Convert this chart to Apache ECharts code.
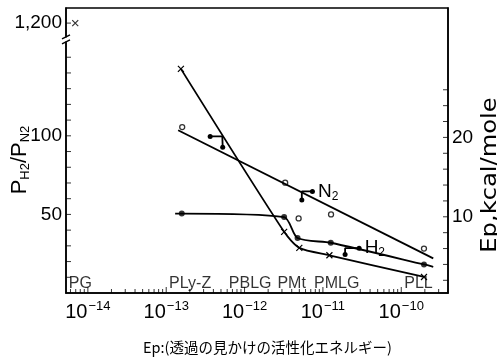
<!DOCTYPE html>
<html><head><meta charset="utf-8">
<script src="https://cdn.jsdelivr.net/npm/echarts@6/dist/echarts.min.js"></script>
<style>html,body{margin:0;padding:0;background:#fff}#c{width:497px;height:361px}</style>
</head><body><div id="c"></div>
<script>
// ---- data ----
const materials = ['PG', 'PLy-Z', 'PBLG', 'PMt', 'PMLG', 'PLL'];
const materialX = [8.0e-15, 2.02e-13, 1.18e-12, 3.99e-12, 1.50e-11, 1.66e-10];

// P_H2 / P_N2 (left axis, crosses)
const ratioPGX = [6.9e-15];
const ratioPGY = [1200];
const ratioX = [1.54e-13, 3.2e-12, 5.0e-12, 1.21e-11, 1.95e-10];
const ratioY = [142.6, 38.9, 28.7, 24.0, 10.2];

// Ep for N2 (right axis, open circles + drawn straight line)
const n2X = [1.6e-13, 3.3e-12, 4.9e-12, 1.27e-11, 1.95e-10];
const n2Ep = [21.3, 14.3, 9.8, 10.3, 6.0];
const n2LineX = [1.42e-13, 2.56e-10];
const n2LineEp = [20.9, 4.76];

// Ep for H2 (right axis, filled dots + drawn curve)
const h2X = [1.58e-13, 3.2e-12, 4.75e-12, 1.26e-11, 1.95e-10];
const h2Ep = [10.4, 9.96, 7.32, 6.73, 4.0];
const h2LineX = [1.30e-13, 1.58e-13, 3.2e-12, 4.75e-12, 1.26e-11, 1.95e-10, 2.56e-10];
const h2LineEp = [10.4, 10.4, 9.96, 7.32, 6.73, 4.0, 3.7];

// key markers (end dot, corner, end dot)
const keyRatioX = [3.64e-13, 5.2e-13, 5.26e-13];
const keyRatioY = [99.6, 99.6, 92.8];
const keyN2X = [5.38e-12, 5.38e-12, 7.35e-12];
const keyN2Ep = [12.1, 13.2, 13.2];
const keyH2X = [1.92e-11, 1.92e-11, 2.9e-11];
const keyH2Ep = [5.26, 6.05, 6.05];

// ticks / labels
const xMin = 5.26e-15, xMax = 3.95e-10;
const xLabelValues = [1e-14, 1e-13, 1e-12, 1e-11, 1e-10];
const xMinorTickValues = [];
for (let e = -15; e <= -10; e++) for (let k = 2; k <= 9; k++) {
  const v = k * Math.pow(10, e);
  if (v > xMin && v < xMax) xMinorTickValues.push(v);
}
const leftTickValues = [10,20,30,40,50,60,70,80,90,100,110,120,130,140,150,1200];
const leftLabelValues = [50, 100, 1200];
const rightTickValues = [2,4,6,8,10,12,14,16,18,20,22,24,26];
const rightLabelValues = [10, 20];
const breakStart = 160, breakEnd = 1191;

const FONT = '"Liberation Sans", Arial, sans-serif';
const zip = (a, b) => a.map((v, i) => [v, b[i]]);
const crossSym = 'path://M0,0L10,10M10,0L0,10';

function keySeries(xs, ys, yIdx, label) {
  return {
    type: 'line', yAxisIndex: yIdx, silent: true,
    data: xs.map((x, i) => ({
      value: [x, ys[i]],
      symbol: i === 1 ? 'none' : 'circle',
      label: (label && i === 2) ? {show: true, position: 'right', distance: 3,
        formatter: label, fontFamily: FONT, fontSize: 19, color: '#000',
        rich: {s: {fontSize: 12, fontFamily: FONT, verticalAlign: 'bottom', padding: [10,0,0,0]}}} : {show: false}
    })),
    symbolSize: 5, itemStyle: {color: '#000'},
    lineStyle: {color: '#000', width: 1.8}
  };
}
function tickSeries(data, yIdx, size, offset) {
  return {type: 'scatter', yAxisIndex: yIdx, silent: true, clip: false, symbol: 'rect',
    symbolSize: size, symbolOffset: offset, itemStyle: {color: '#000'}, data: data, z: 5};
}
function buildGraphics(mark) {
  const g = [{
    id: 'caption', type: 'text', left: 143, top: 340,
    style: {text: 'Ep:(透過の見かけの活性化エネルギー)', fontSize: 14.5, fontFamily: '"Noto Sans CJK JP", sans-serif', fill: '#000'}
  }, {
    id: 'leftName', type: 'text', x: 7, y: 160, rotation: Math.PI / 2,
    style: {text: 'P{s|H2}/P{s|N2}', fontSize: 22, fontFamily: FONT, fill: '#000', align: 'center', verticalAlign: 'top',
      rich: {s: {fontSize: 13, fontFamily: FONT, fill: '#000', verticalAlign: 'bottom', padding: [12, 0, 0, 0]}}}
  }, {
    id: 'rightName', type: 'text', x: 479, y: 175, rotation: Math.PI / 2, scaleX: 1.1,
    style: {text: 'Ep,kcal/mole', fontSize: 22, fontFamily: '"DejaVu Sans", sans-serif', fill: '#000', align: 'center', verticalAlign: 'top'}
  }];
  if (mark) {
    const {x, y} = mark;
    g.push({id: 'breakMark', type: 'group', z: 100, children: [
      {type: 'rect', shape: {x: x - 2, y: y - 3, width: 4, height: 6}, style: {fill: '#fff'}},
      {type: 'line', shape: {x1: x - 4, y1: y - 0.5, x2: x + 4, y2: y - 4.5}, style: {stroke: '#000', lineWidth: 1.3}},
      {type: 'line', shape: {x1: x - 4, y1: y + 4.5, x2: x + 4, y2: y + 0.5}, style: {stroke: '#000', lineWidth: 1.3}}
    ]});
  }
  return g;
}

const chart = echarts.init(document.getElementById('c'), null, {renderer: 'canvas'});
chart.setOption({
  animation: false,
  backgroundColor: '#fff',
  grid: {left: 66, right: 49, top: 8, bottom: 68, containLabel: false, outerBoundsMode: 'none',
    show: true, borderColor: '#000', borderWidth: 1.5},
  xAxis: {
    type: 'log', logBase: 10, min: xMin, max: xMax,
    axisLine: {show: true, onZero: false, lineStyle: {color: '#000', width: 1.5}},
    axisTick: {show: false},
    axisLabel: {
      customValues: xLabelValues, margin: 7, color: '#000', fontFamily: FONT,
      formatter: v => {
        const e = v > 0 ? Math.round(Math.log10(v)) : Math.round(v);
        return '{b|10}{s|\u2212' + Math.abs(e) + '}';
      },
      rich: {
        b: {fontSize: 20, fontFamily: FONT, color: '#000', lineHeight: 22, verticalAlign: 'bottom'},
        s: {fontSize: 13, fontFamily: FONT, color: '#000', lineHeight: 22, verticalAlign: 'top', padding: [0,0,6,1]}
      }
    },
    splitLine: {show: false}, minorTick: {show: false}
  },
  yAxis: [{
    type: 'value', position: 'left', min: 0, max: 1209.6,
    breaks: [{start: breakStart, end: breakEnd, gap: '1.5%'}],
    breakArea: {show: false},
    axisLine: {show: true, lineStyle: {color: '#000', width: 1.5}},
    axisTick: {show: false},
    axisLabel: {customValues: leftLabelValues, margin: 4, color: '#000', fontFamily: FONT, fontSize: 19,
      formatter: v => v === 1200 ? '1,200' : String(v)},
    splitLine: {show: false}
  }, {
    type: 'value', position: 'right', min: 0.4, max: 36.3,
    axisLine: {show: true, lineStyle: {color: '#000', width: 1.5}},
    axisTick: {show: false},
    axisLabel: {customValues: rightLabelValues, margin: 4, color: '#000', fontFamily: FONT, fontSize: 19},
    splitLine: {show: false}
  }],
  graphic: buildGraphics(null),
  series: [
    {type: 'line', yAxisIndex: 0, data: zip(ratioX, ratioY), symbol: crossSym, symbolSize: 6,
     itemStyle: {color: '#000', borderColor: '#000', borderWidth: 1.2}, lineStyle: {color: '#000', width: 1.8}, smooth: 0.25},
    {type: 'scatter', yAxisIndex: 0, data: zip(ratioPGX, ratioPGY), symbol: crossSym, symbolSize: 6,
     itemStyle: {color: '#000', borderColor: '#000', borderWidth: 1.2}},
    {type: 'line', yAxisIndex: 1, data: zip(n2LineX, n2LineEp), symbol: 'none', lineStyle: {color: '#000', width: 1.8}},
    {type: 'scatter', yAxisIndex: 1, data: zip(n2X, n2Ep), symbol: 'circle', symbolSize: 5,
     itemStyle: {color: '#fff', borderColor: '#000', borderWidth: 1.3}},
    {type: 'line', yAxisIndex: 1, data: zip(h2LineX, h2LineEp), symbol: 'none', lineStyle: {color: '#000', width: 1.8}, smooth: 0.25},
    {type: 'scatter', yAxisIndex: 1, data: zip(h2X, h2Ep), symbol: 'circle', symbolSize: 6, itemStyle: {color: '#000'}},
    keySeries(keyRatioX, keyRatioY, 0, null),
    keySeries(keyN2X, keyN2Ep, 1, 'N{s|2}'),
    keySeries(keyH2X, keyH2Ep, 1, 'H{s|2}'),
    {type: 'scatter', yAxisIndex: 0, symbol: 'circle', symbolSize: 1, silent: true,
     itemStyle: {color: 'rgba(0,0,0,0)'},
     data: materials.map((n, i) => ({name: n, value: [materialX[i], 6.1]})),
     label: {show: true, position: 'inside', formatter: '{b}', fontFamily: FONT, fontSize: 16, color: '#000'}},
    // axis ticks (drawn inward)
    tickSeries(xMinorTickValues.map(v => [v, 0]), 0, [1, 4], [0, -2]),
    tickSeries(xLabelValues.map(v => [v, 0]), 0, [1, 6], [0, -3]),
    tickSeries(leftTickValues.map(v => [xMin, v]), 0, [5, 1], [2.5, 0]),
    tickSeries(rightTickValues.map(v => [xMax, v]), 1, [5, 1], [-2.5, 0])
  ]
});
// small "//" break mark on the left axis, placed between the two sides of the break
let pA = chart.convertToPixel({xAxisIndex: 0, yAxisIndex: 0}, [xMin, breakStart]);
let pB = chart.convertToPixel({xAxisIndex: 0, yAxisIndex: 0}, [xMin, breakEnd]);
let mark = null;
if (pA && pB && isFinite(pA[1]) && isFinite(pB[1])) mark = {x: pA[0], y: (pA[1] + pB[1]) / 2};
else mark = {x: 66, y: 40};
chart.setOption({graphic: buildGraphics(mark)}, {replaceMerge: ['graphic']});
</script></body></html>
